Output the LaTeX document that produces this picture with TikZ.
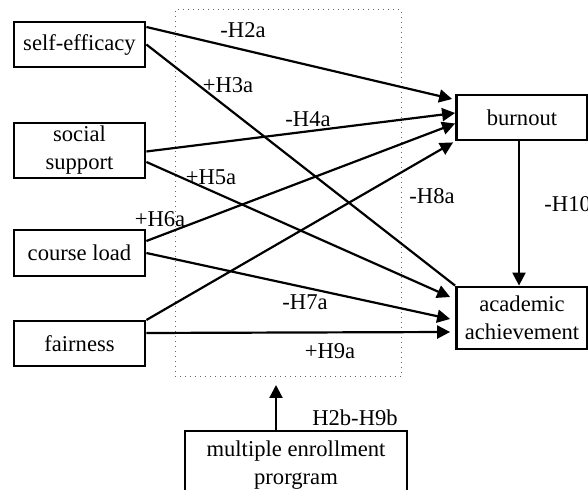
\documentclass[tikz,border=0pt]{standalone}
\usepackage{fontspec}
\setmainfont{Liberation Serif}
\usetikzlibrary{arrows.meta,calc}

\begin{document}
\begin{tikzpicture}[x=0.5pt, y=-0.5pt, font=\fontsize{11.3}{14}\selectfont,
            box/.style = {draw=black, line width=1.4pt, minimum width=65.5pt, inner sep=1pt, align=center},
           zone/.style = {draw=black!60, dotted, line width=0.5pt, minimum width=113pt, minimum height=183.5pt},
            arr/.style = {line width=1.1pt, -{Triangle[length=6.5pt,width=6.5pt]}},
           link/.style = {line width=1.1pt},
            hyp/.style = {inner sep=0pt}]
        \useasboundingbox (0,0) rectangle (588,490);
        % moderated region
        \node[zone] (zone) at (288,193.5) {};
        % predictors
        \node[box, minimum height=22.5pt] (self)   at (79.5,44.5)  {self-efficacy};
        \node[box, minimum height=27.5pt] (social) at (79.5,150.5) {social\\support};
        \node[box, minimum height=23pt]   (course) at (79.5,253)   {course load};
        \node[box, minimum height=22.5pt] (fair)   at (79.5,343.5) {fairness};
        % outcomes
        \node[box, minimum height=22.5pt] (burnout)  at (522,117.5) {burnout};
        \node[box, minimum height=31pt]   (academic) at (522,318)   {academic\\achievement};
        \node[box, minimum width=111pt, minimum height=34pt] (multi) at (296,465) {multiple enrollment\\prorgram};
        % paths
        \draw[arr]  ($(self.east)+(0,-17.5)$)   -- ($(burnout.west)+(-3,-18.5)$);
        \draw[link] (self.east)                 -- (academic.north west);
        \draw[arr]  ($(social.east)+(0,1)$)     -- ($(burnout.west)+(0,-4.5)$);
        \draw[arr]  ($(social.east)+(0,11.5)$)  -- ($(academic.west)+(-5,-21)$);
        \draw[arr]  ($(course.east)+(0,-12)$)   -- ($(burnout.west)+(0,6)$);
        \draw[arr]  (course.east)               -- ($(academic.west)+(-5,1)$);
        \draw[arr]  ($(fair.east)+(0,-23.5)$)   -- ($(burnout.south west)+(-2,1)$);
        \draw[arr]  ($(fair.east)+(0,-10.5)$)   -- ($(academic.west)+(-5,14)$);
        \draw[arr]  ($(burnout.south)+(-3,0)$)  -- ($(academic.north)+(-3,0)$);
        \coordinate (mtip) at (276,385);
        \draw[arr]  (multi.north -| mtip) -- (mtip);
        % hypotheses
        \node[hyp] (h2a)  at (243,30)  {-H2a};
        \node[hyp] (h3a)  at (228,85)  {+H3a};
        \node[hyp] (h4a)  at (308,119) {-H4a};
        \node[hyp] (h5a)  at (211,177) {+H5a};
        \node[hyp] (h6a)  at (160,219) {+H6a};
        \node[hyp] (h7a)  at (305,302) {-H7a};
        \node[hyp] (h8a)  at (432,196) {-H8a};
        \node[hyp] (h9a)  at (330,351) {+H9a};
        \node[hyp, anchor=west] (h10) at (544,204) {-H10};
        \node[hyp] (h2b)  at (355,418) {H2b-H9b};
    \end{tikzpicture}
\end{document}
